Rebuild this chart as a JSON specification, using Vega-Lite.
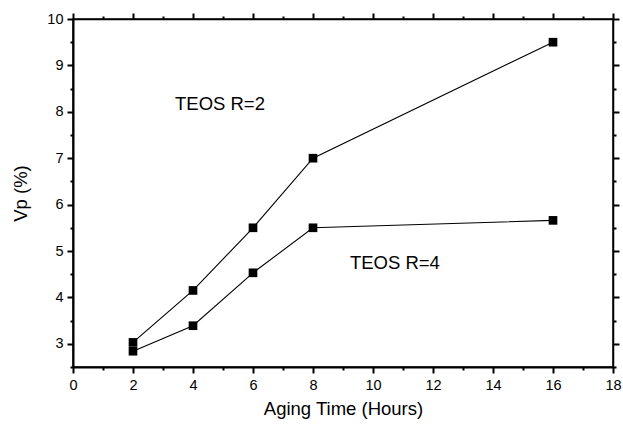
{
  "$schema": "https://vega.github.io/schema/vega-lite/v6.json",
  "width": 540,
  "height": 348,
  "autosize": "none",
  "padding": {"left": 73, "top": 19, "right": 10, "bottom": 57},
  "background": "white",
  "config": {
    "view": {"stroke": "black", "strokeWidth": 1.5},
    "font": "Liberation Sans",
    "axis": {
      "domainColor": "black",
      "domainWidth": 2,
      "tickColor": "black",
      "tickWidth": 2,
      "labelColor": "black",
      "labelFont": "Liberation Sans",
      "labelFontSize": 14.5,
      "titleFont": "Liberation Sans",
      "titleFontSize": 18.5,
      "titleFontWeight": "normal",
      "titleColor": "black",
      "grid": false
    }
  },
  "data": {
    "values": [
      {"series": "R2", "t": 2, "vp": 3.03},
      {"series": "R2", "t": 4, "vp": 4.15},
      {"series": "R2", "t": 6, "vp": 5.5},
      {"series": "R2", "t": 8, "vp": 7.0},
      {"series": "R2", "t": 16, "vp": 9.5},
      {"series": "R4", "t": 2, "vp": 2.84},
      {"series": "R4", "t": 4, "vp": 3.39},
      {"series": "R4", "t": 6, "vp": 4.53},
      {"series": "R4", "t": 8, "vp": 5.5},
      {"series": "R4", "t": 16, "vp": 5.66}
    ]
  },
  "resolve": {"axis": {"x": "independent", "y": "independent"}},
  "layer": [
    {
      "mark": {"type": "line", "color": "black", "strokeWidth": 1.1},
      "encoding": {
        "x": {"field": "t", "type": "quantitative", "scale": {"domain": [0, 18], "nice": false, "zero": false},
              "axis": {"orient": "bottom", "values": [0, 2, 4, 6, 8, 10, 12, 14, 16, 18], "tickSize": 6, "labelPadding": 5, "title": "Aging Time (Hours)", "titlePadding": 8, "labelFlush": false}},
        "y": {"field": "vp", "type": "quantitative", "scale": {"domain": [2.5, 10], "nice": false, "zero": false},
              "axis": {"orient": "left", "values": [3, 4, 5, 6, 7, 8, 9, 10], "tickSize": 6, "labelPadding": 4, "title": "Vp (%)", "titlePadding": 16, "labelFlush": false}},
        "detail": {"field": "series"}
      }
    },
    {
      "mark": {"type": "square", "color": "black", "filled": true, "opacity": 1, "size": 75},
      "encoding": {
        "x": {"field": "t", "type": "quantitative", "axis": null},
        "y": {"field": "vp", "type": "quantitative", "axis": null}
      }
    },
    {
      "data": {"values": [
        {"label": "TEOS R=2", "tx": 3.4, "ty": 8.03},
        {"label": "TEOS R=4", "tx": 9.23, "ty": 4.62}
      ]},
      "mark": {"type": "text", "align": "left", "baseline": "alphabetic", "fontSize": 18.5, "font": "Liberation Sans", "color": "black"},
      "encoding": {
        "x": {"field": "tx", "type": "quantitative", "axis": null},
        "y": {"field": "ty", "type": "quantitative", "axis": null},
        "text": {"field": "label"}
      }
    },
    {
      "mark": {"type": "point", "opacity": 0},
      "encoding": {
        "x": {"field": "t", "type": "quantitative",
              "axis": {"orient": "bottom", "values": [1, 3, 5, 7, 9, 11, 13, 15, 17], "tickSize": 3, "labels": false, "domain": false, "title": null}},
        "y": {"field": "vp", "type": "quantitative",
              "axis": {"orient": "left", "values": [2.5, 3.5, 4.5, 5.5, 6.5, 7.5, 8.5, 9.5], "tickSize": 3, "labels": false, "domain": false, "title": null}}
      }
    },
    {
      "mark": {"type": "point", "opacity": 0},
      "encoding": {
        "x": {"field": "t", "type": "quantitative",
              "axis": {"orient": "top", "values": [0, 2, 4, 6, 8, 10, 12, 14, 16, 18], "tickSize": 6, "labels": false, "domainWidth": 1.5, "title": null}},
        "y": {"field": "vp", "type": "quantitative",
              "axis": {"orient": "right", "values": [3, 4, 5, 6, 7, 8, 9, 10], "tickSize": 6, "labels": false, "domainWidth": 1.5, "title": null}}
      }
    },
    {
      "mark": {"type": "point", "opacity": 0},
      "encoding": {
        "x": {"field": "t", "type": "quantitative",
              "axis": {"orient": "top", "values": [1, 3, 5, 7, 9, 11, 13, 15, 17], "tickSize": 3, "labels": false, "domain": false, "title": null}},
        "y": {"field": "vp", "type": "quantitative",
              "axis": {"orient": "right", "values": [2.5, 3.5, 4.5, 5.5, 6.5, 7.5, 8.5, 9.5], "tickSize": 3, "labels": false, "domain": false, "title": null}}
      }
    }
  ]
}
